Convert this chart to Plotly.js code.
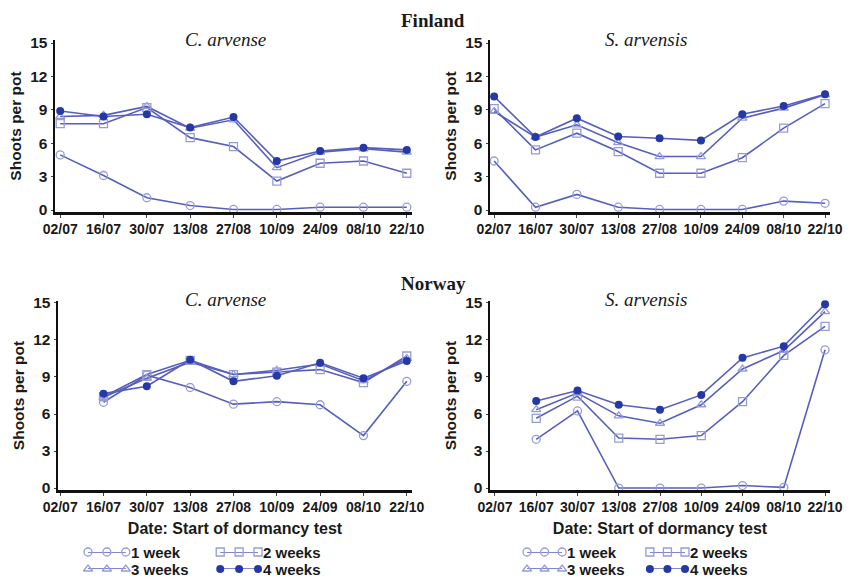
<!DOCTYPE html>
<html>
<head>
<meta charset="utf-8">
<script src="https://cdn.plot.ly/plotly-3.0.1.min.js"></script>
<style>html,body{margin:0;padding:0;background:#fff;}#chart{width:851px;height:579px;}</style>
</head>
<body>
<div id="chart"></div>
<script>
// ---- data ----
const dates = ['02/07','16/07','30/07','13/08','27/08','10/09','24/09','08/10','22/10'];
const seriesNames = ['1 week','2 weeks','3 weeks','4 weeks'];
const yTicks = [0,3,6,9,12,15];

// Finland, C. arvense
const fiC_1w = [4.95, 3.1, 1.1, 0.4, 0.05, 0.05, 0.25, 0.25, 0.25];
const fiC_2w = [7.75, 7.75, 9.2, 6.5, 5.7, 2.6, 4.2, 4.4, 3.3];
const fiC_3w = [8.4, 8.5, 9.3, 7.35, 8.1, 3.8, 5.2, 5.5, 5.2];
const fiC_4w = [8.9, 8.4, 8.6, 7.4, 8.35, 4.4, 5.3, 5.6, 5.4];
// Finland, S. arvensis
const fiS_1w = [4.4, 0.25, 1.4, 0.25, 0.05, 0.05, 0.05, 0.8, 0.6];
const fiS_2w = [9.1, 5.4, 6.9, 5.25, 3.3, 3.3, 4.7, 7.35, 9.55];
const fiS_3w = [8.85, 6.55, 7.65, 6.05, 4.8, 4.8, 8.25, 9.15, 10.35];
const fiS_4w = [10.2, 6.55, 8.25, 6.6, 6.45, 6.25, 8.6, 9.35, 10.4];
// Norway, C. arvense
const noC_1w = [null, 6.95, 9.15, 8.15, 6.8, 7.0, 6.75, 4.25, 8.65];
const noC_2w = [null, 7.4, 9.2, 10.35, 9.2, 9.4, 9.6, 8.55, 10.7];
const noC_3w = [null, 7.35, 8.9, 10.2, 9.2, 9.55, 10.05, 8.7, 10.5];
const noC_4w = [null, 7.65, 8.25, 10.4, 8.65, 9.1, 10.15, 8.9, 10.3];
// Norway, S. arvensis
const noS_1w = [null, 3.95, 6.25, 0, 0, 0, 0.2, 0.05, 11.2];
const noS_2w = [null, 5.65, 7.45, 4.05, 3.95, 4.25, 7.0, 10.75, 13.1];
const noS_3w = [null, 6.35, 7.7, 5.85, 5.25, 6.75, 9.65, 11.15, 14.3];
const noS_4w = [null, 7.05, 7.9, 6.75, 6.35, 7.55, 10.55, 11.5, 14.9];

// legend sample positions (three markers per sample)
const legSampleA = [0, 1, 2];
const legSampleB = [7, 8, 9];
const legRows = [1, 0];

// ---- styling ----
const lineCol = 'rgb(86,94,190)';
const openCol = 'rgb(150,156,216)';
const fillCol = 'rgb(36,56,166)';
const symbols = ['circle-open','square-open','triangle-up-open','circle'];
const mColors = [openCol, openCol, openCol, fillCol];
const sans = 'Liberation Sans, Arial, Helvetica, sans-serif';
const serif = 'Liberation Serif, Times New Roman, serif';

function panelTraces(sets, xa, ya) {
  return sets.map((ys, i) => ({
    type: 'scatter', mode: 'lines+markers',
    x: dates, y: ys, xaxis: xa, yaxis: ya,
    name: seriesNames[i], showlegend: false, cliponaxis: false,
    connectgaps: false,
    line: {color: lineCol, width: 1.6},
    marker: {symbol: symbols[i], size: 8, color: mColors[i],
             line: {color: mColors[i], width: i === 3 ? 0 : 1.3}}
  }));
}

let data = [];
data = data.concat(panelTraces([fiC_1w, fiC_2w, fiC_3w, fiC_4w], 'x', 'y'));
data = data.concat(panelTraces([fiS_1w, fiS_2w, fiS_3w, fiS_4w], 'x2', 'y2'));
data = data.concat(panelTraces([noC_1w, noC_2w, noC_3w, noC_4w], 'x3', 'y3'));
data = data.concat(panelTraces([noS_1w, noS_2w, noS_3w, noS_4w], 'x4', 'y4'));

// legend samples for both legend blocks
const legendSlots = [
  {xs: legSampleA, row: legRows[0]},
  {xs: legSampleB, row: legRows[0]},
  {xs: legSampleA, row: legRows[1]},
  {xs: legSampleB, row: legRows[1]}
];
const annotations = [];
[['x5','y5'], ['x6','y6']].forEach(([xa, ya]) => {
  legendSlots.forEach((s, i) => {
    data.push({
      type: 'scatter', mode: 'lines+markers', x: s.xs, y: s.xs.map(() => s.row),
      xaxis: xa, yaxis: ya, showlegend: false, cliponaxis: false, hoverinfo: 'skip',
      line: {color: lineCol, width: 1.6},
      marker: {symbol: symbols[i], size: 8, color: mColors[i],
               line: {color: mColors[i], width: i === 3 ? 0 : 1.3}}
    });
    annotations.push({
      xref: xa, yref: ya, x: s.xs[s.xs.length - 1], y: s.row,
      xanchor: 'left', yanchor: 'middle', xshift: 3, showarrow: false,
      text: seriesNames[i],
      font: {family: sans, size: 15, weight: 'bold', color: '#1a1a1a'}
    });
  });
});

// titles
const titleFont = {family: serif, size: 19, weight: 'bold', color: '#1a1a1a'};
const subFont = {family: serif, size: 19, style: 'italic', color: '#1a1a1a'};
function paperNote(px, py, text, font) {
  return {xref: 'paper', yref: 'paper', x: px / 851, y: 1 - py / 579, text: text,
          showarrow: false, font: font, xanchor: 'center', yanchor: 'middle'};
}
annotations.push(
  paperNote(433, 20, 'Finland', titleFont),
  paperNote(433, 283, 'Norway', titleFont),
  paperNote(226, 39, 'C. arvense', subFont),
  paperNote(646, 39, 'S. arvensis', subFont),
  paperNote(226, 299, 'C. arvense', subFont),
  paperNote(646, 299, 'S. arvensis', subFont)
);

const tickFontX = {family: sans, size: 14, weight: 'bold', color: '#1a1a1a'};
const tickFontY = {family: sans, size: 15.5, weight: 'bold', color: '#1a1a1a'};
const axTitleFont = {family: sans, size: 15.5, weight: 'bold', color: '#1a1a1a'};

function xAxis(domain, range, anchor, withTitle) {
  const a = {
    domain: domain, range: range, anchor: anchor, type: 'category',
    categoryorder: 'array', categoryarray: dates,
    showline: true, linecolor: '#111', linewidth: 2.5,
    showgrid: false, zeroline: false,
    ticks: 'outside', ticklen: 3, tickwidth: 1, tickcolor: '#444',
    tickfont: tickFontX, automargin: false, fixedrange: true
  };
  if (withTitle) a.title = {text: 'Date: Start of dormancy test', font: {family: sans, size: 16, weight: 'bold', color: '#1a1a1a'}, standoff: 9};
  return a;
}
function yAxis(domain, range, anchor) {
  return {
    domain: domain, range: range, anchor: anchor,
    tickvals: yTicks, ticktext: yTicks.map(String),
    showline: true, linecolor: '#111', linewidth: 2.5,
    showgrid: false, zeroline: false,
    ticks: 'outside', ticklen: 2, tickwidth: 1, tickcolor: '#444',
    tickfont: tickFontY, automargin: false, fixedrange: true,
    title: {text: 'Shoots per pot', font: axTitleFont, standoff: 5}
  };
}
function hidden(domain, range, anchor) {
  return {domain: domain, range: range, anchor: anchor, visible: false, fixedrange: true};
}

const W = 851, H = 579;
const layout = {
  width: W, height: H, autosize: false,
  margin: {l: 0, r: 0, t: 0, b: 0, pad: 0},
  paper_bgcolor: '#fff', plot_bgcolor: '#fff',
  showlegend: false,
  xaxis:  xAxis([55/W, 412/W], [-0.12, 8.12], 'y', false),
  yaxis:  yAxis([1 - 212/H, 1 - 40/H], [-0.18, 15.27], 'x'),
  xaxis2: xAxis([490/W, 830/W], [-0.1, 8.12], 'y2', false),
  yaxis2: yAxis([1 - 212/H, 1 - 40/H], [-0.18, 15.27], 'x2'),
  xaxis3: xAxis([58/W, 412/W], [-0.05, 8.12], 'y3', true),
  yaxis3: yAxis([1 - 490/H, 1 - 301/H], [-0.16, 15.16], 'x3'),
  xaxis4: xAxis([490/W, 830/W], [-0.12, 8.12], 'y4', true),
  yaxis4: yAxis([1 - 490/H, 1 - 301/H], [-0.16, 15.16], 'x4'),
  xaxis5: hidden([88/W, 258/W], [0, 9], 'y5'),
  yaxis5: hidden([1 - 569/H, 1 - 552/H], [0, 1], 'x5'),
  xaxis6: hidden([527/W, 685/W], [0, 9], 'y6'),
  yaxis6: hidden([1 - 569/H, 1 - 552/H], [0, 1], 'x6'),
  annotations: annotations
};

Plotly.newPlot('chart', data, layout, {staticPlot: true, displayModeBar: false});
</script>
</body>
</html>
